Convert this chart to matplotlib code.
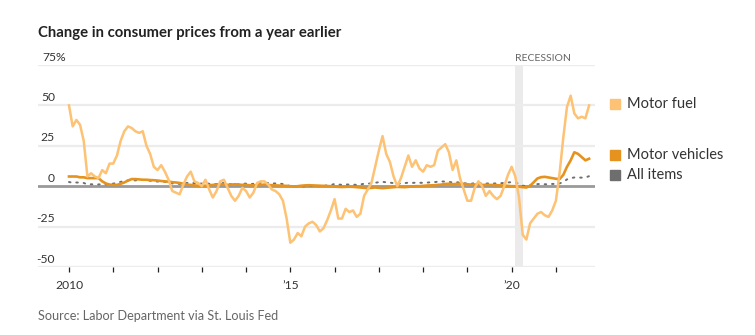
import numpy as np
import matplotlib
matplotlib.use('Agg')
import matplotlib.pyplot as plt
from matplotlib.patches import Rectangle
from matplotlib import transforms

# Годовое изменение цен, % (помесячно, янв. 2010 – окт. 2021)
motor_fuel = [
    50, 37, 41, 38, 28, 6, 8, 6, 5, 10, 8, 14,
    14, 19, 28, 34, 37, 36, 34, 33, 34, 25, 20, 12,
    10, 13, 9, 4, -3, -4, -5, 1, 6, 9, 3, 2,
    0, 4, -2, -7, -3, 3, 4, -1, -6, -9, -6, -1,
    -3, -7, -4, 2, 3, 3, 1, -2, -3, -5, -9, -20,
    -35, -33, -29, -31, -25, -23, -22, -24, -28, -26, -21, -15,
    -8, -20, -20, -14, -16, -15, -19, -17, -6, -2, 2, 12,
    22, 31, 20, 15, 6, 0, 5, 12, 19, 12, 16, 11,
    9, 13, 12, 13, 22, 24, 26, 21, 10, 16, 5, -2,
    -9, -9, -1, 3, 0, -6, -3, -6, -8, -6, 0, 7,
    12, 6, -7, -30, -33, -23, -20, -17, -16, -18, -19, -15,
    -9, 8, 30, 49, 56, 45, 42, 43, 42, 50,
]
motor_vehicles = [
    6, 6, 6, 5.5, 5.5, 5, 5, 5, 5, 3, 1.7, 1,
    0.8, 0.8, 1.5, 2.3, 3.5, 4.4, 4.4, 4.2, 4, 4, 3.8, 3.7,
    3.5, 3.2, 3, 2.8, 2.5, 2.3, 2, 1.5, 1, 0.8, 0.5, 0.3,
    0.2, 0.3, 0.5, 0.8, 1, 1.2, 1, 0.8, 1, 1.2, 1, 0.8,
    0.8, 0.6, 0.5, 0.6, 0.8, 1, 0.8, 0.6, 0.5, 0.4, 0.3, 0.2,
    0, -0.2, 0, 0.3, 0.5, 0.6, 0.5, 0.4, 0.3, 0.2, 0.1, 0,
    -0.2, -0.4, -0.5, -0.4, -0.3, -0.4, -0.6, -0.8, -1, -1.2, -1, -0.8,
    -1, -1.2, -1, -0.8, -0.6, -0.4, -0.5, -0.6, -0.4, -0.2, 0, 0,
    0.2, 0.4, 0.5, 0.6, 0.8, 1, 1.4, 1.5, 1.2, 1.4, 1.6, 1.4,
    1.2, 1, 1, 0.9, 0.8, 0.8, 0.8, 0.7, 0.6, 0.5, 0.4, 0.2,
    0, 0, -0.3, -0.6, -0.8, 0.2, 2.5, 4.8, 5.6, 5.8, 5.4, 5,
    4.6, 4.4, 7, 12, 16, 21, 20, 18, 16, 17,
]
all_items = [
    2.6, 2.1, 2.3, 2.2, 2.0, 1.1, 1.2, 1.1, 1.1, 1.2, 1.1, 1.5,
    1.6, 2.1, 2.7, 3.2, 3.6, 3.6, 3.6, 3.8, 3.9, 3.5, 3.4, 3.0,
    2.9, 2.9, 2.7, 2.3, 1.7, 1.7, 1.4, 1.7, 2.0, 2.2, 1.8, 1.7,
    1.6, 2.0, 1.5, 1.1, 1.4, 1.8, 2.0, 1.5, 1.2, 1.0, 1.2, 1.5,
    1.6, 1.1, 1.5, 2.0, 2.1, 2.1, 2.0, 1.7, 1.7, 1.7, 1.3, 0.8,
    -0.1, 0.0, -0.1, -0.2, 0.0, 0.1, 0.2, 0.2, 0.0, 0.2, 0.5, 0.7,
    1.4, 1.0, 0.9, 1.1, 1.0, 1.0, 0.8, 1.1, 1.5, 1.6, 1.7, 2.1,
    2.5, 2.7, 2.4, 2.2, 1.9, 1.6, 1.7, 1.9, 2.2, 2.0, 2.2, 2.1,
    2.1, 2.2, 2.4, 2.5, 2.8, 2.9, 2.9, 2.7, 2.3, 2.5, 2.2, 1.9,
    1.6, 1.5, 1.9, 2.0, 1.8, 1.6, 1.8, 1.7, 1.7, 1.8, 2.1, 2.3,
    2.5, 2.3, 1.5, 0.3, 0.1, 0.6, 1.0, 1.3, 1.4, 1.2, 1.2, 1.4,
    1.4, 1.7, 2.6, 4.2, 5.0, 5.4, 5.4, 5.3, 5.4, 6.2,
]
months = np.arange(len(motor_fuel))

year_ticks = np.arange(0, 133, 12)
year_labels = ['2010', '', '', '', '', '’15', '', '', '', '', '’20', '']
y_grid = [75, 50, 25, -25, -50]
y_labels = {75: '75%', 50: '50', 25: '25', 0: '0', -25: '-25', -50: '-50'}
recession = (121, 123)  # февраль – апрель 2020

fuel_color = '#fdc273'
veh_color = '#e5931e'
all_color = '#6e6e6e'
text_color = '#333333'

plt.rcParams['font.family'] = ['Lato', 'DejaVu Sans']

W, H = 755, 335
fig = plt.figure(figsize=(W / 100, H / 100), dpi=100)
ax = fig.add_axes([38 / W, 1 - 267 / H, (595 - 38) / W, (267 - 65) / H])

ax.set_xlim(-8.4, 142.6)
ax.set_ylim(-50, 75)

for v in y_grid:
    ax.axhline(v, color='#ececec', lw=1.6, zorder=1)
ax.axhline(0, color='#999999', lw=2, zorder=2)

ax.axvspan(recession[0], recession[1], color='#ebebeb', lw=0, zorder=0.5)
ax.text(recession[0], 76.5, 'RECESSION', fontsize=7.5, color='#666666',
        ha='left', va='bottom', clip_on=False)

ax.plot(months, all_items, color=all_color, lw=1.4, ls=(0, (0.8, 3)),
        dash_capstyle='round', zorder=3)
ax.plot(months, motor_vehicles, color=veh_color, lw=1.9, zorder=4)
ax.plot(months, motor_fuel, color=fuel_color, lw=1.8, zorder=5)

# подписи оси Y над линиями сетки
trans = transforms.blended_transform_factory(ax.transAxes, ax.transData)
for v, s in y_labels.items():
    if v == 75:
        ax.text(4.5 / 557, v + 1.5, s, transform=trans, ha='left', va='bottom',
                fontsize=8.7, color=text_color)
    else:
        ax.text(17 / 557, v + 1.5, s, transform=trans, ha='right', va='bottom',
                fontsize=8.7, color=text_color)

ax.set_yticks([])
ax.set_xticks(year_ticks)
ax.set_xticklabels(year_labels, fontsize=8.7, color=text_color)
ax.tick_params(axis='x', length=3.5, width=0.9, color='#222222', pad=6)
for sp in ax.spines.values():
    sp.set_visible(False)

fig.text(38 / W, 1 - 33 / H, 'Change in consumer prices from a year earlier',
         fontsize=10.7, fontweight='bold', color='#222222', va='center', ha='left')
fig.text(38 / W, 1 - 316 / H, 'Source: Labor Department via St. Louis Fed',
         fontsize=9.1, color='#666666', va='center', ha='left')

# легенда справа
legend_items = [('Motor fuel', fuel_color, 104), ('Motor vehicles', veh_color, 155),
                ('All items', all_color, 175)]
for name, col, yc in legend_items:
    fig.patches.append(Rectangle((610 / W, 1 - (yc + 5) / H), 10 / W, 10 / H,
                                 transform=fig.transFigure, color=col))
    fig.text(627 / W, 1 - yc / H, name, fontsize=10.5, color=text_color,
             va='center', ha='left')

plt.savefig('out.png', dpi=100)
